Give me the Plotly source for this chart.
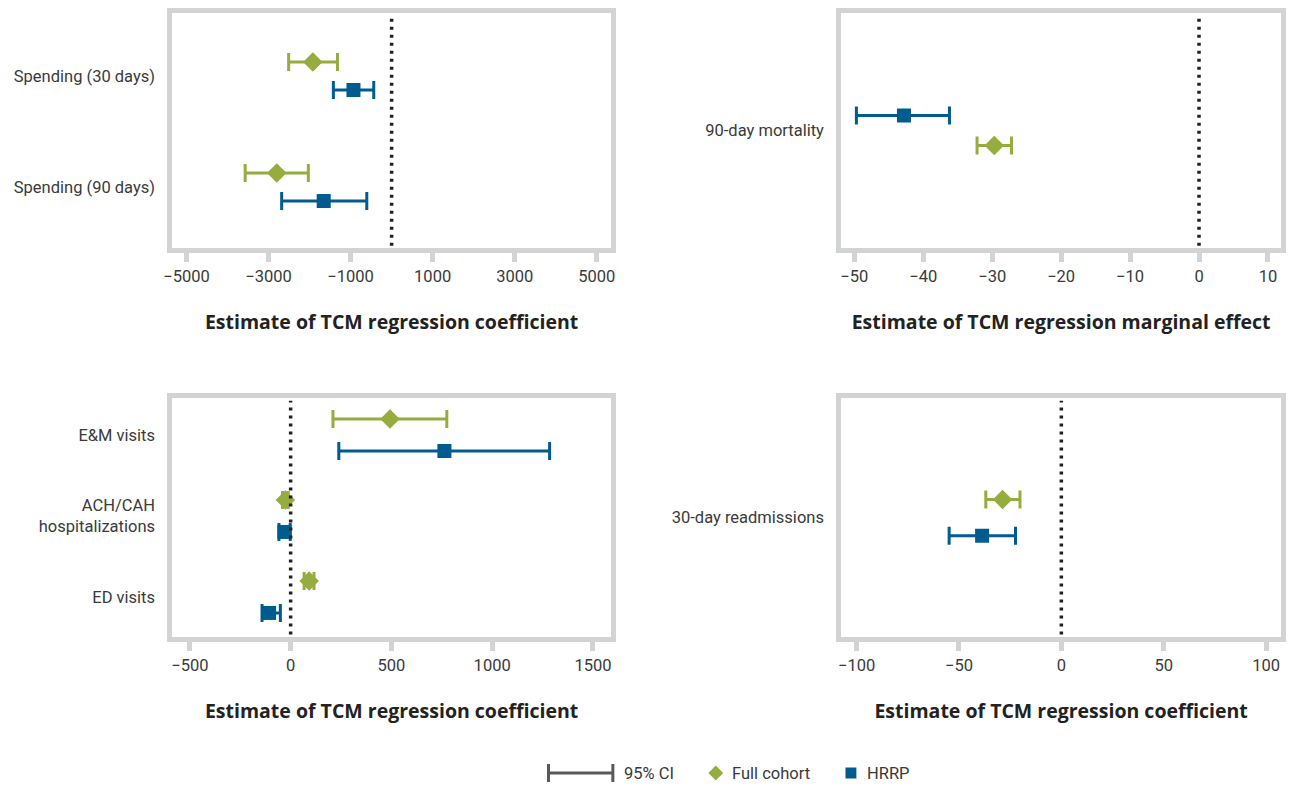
import plotly.graph_objects as go

W, H = 1290, 786
GREEN = "#95ad3e"
BLUE = "#005b8f"
FRAME = "#d2d3d5"
TXT = "#3a3a3a"
DOT = "#231f20"
FONT = "Roboto"
TFONT = "Open Sans"

# ---------------- data ----------------
# Panel 1 (top-left)
p1_cats = ["Spending (30 days)", "Spending (90 days)"]
p1_full_est = [-1920, -2800]
p1_full_lo = [-2510, -3570]
p1_full_hi = [-1320, -2030]
p1_hrrp_est = [-930, -1655]
p1_hrrp_lo = [-1420, -2680]
p1_hrrp_hi = [-435, -605]
p1_ticks = [-5000, -3000, -1000, 1000, 3000, 5000]

# Panel 2 (top-right)
p2_cats = ["90-day mortality"]
p2_full_est = [-29.7]
p2_full_lo = [-32.2]
p2_full_hi = [-27.2]
p2_hrrp_est = [-42.8]
p2_hrrp_lo = [-49.7]
p2_hrrp_hi = [-36.2]
p2_ticks = [-50, -40, -30, -20, -10, 0, 10]

# Panel 3 (bottom-left)
p3_cats = ["E&M visits", "ACH/CAH<br>hospitalizations", "ED visits"]
p3_full_est = [493, -26, 92]
p3_full_lo = [210, -40, 67]
p3_full_hi = [775, -12, 116]
p3_hrrp_est = [763, -31, -107]
p3_hrrp_lo = [239, -58, -142]
p3_hrrp_hi = [1285, -2, -51]
p3_ticks = [-500, 0, 500, 1000, 1500]

# Panel 4 (bottom-right)
p4_cats = ["30-day readmissions"]
p4_full_est = [-28.7]
p4_full_lo = [-36.9]
p4_full_hi = [-20.2]
p4_hrrp_est = [-38.7]
p4_hrrp_lo = [-54.8]
p4_hrrp_hi = [-22.4]
p4_ticks = [-100, -50, 0, 50, 100]

titles = ["Estimate of TCM regression coefficient",
          "Estimate of TCM regression marginal effect",
          "Estimate of TCM regression coefficient",
          "Estimate of TCM regression coefficient"]

# ---------------- layout geometry (pixels) ----------------
def px_dom_x(a, b):
    return [a / W, b / W]

def px_dom_y(top, bottom):
    return [1 - bottom / H, 1 - top / H]

panels = [
    dict(cats=p1_cats, fe=p1_full_est, fl=p1_full_lo, fh=p1_full_hi,
         he=p1_hrrp_est, hl=p1_hrrp_lo, hh=p1_hrrp_hi, ticks=p1_ticks,
         xr=[-5345, 5345], yr=[1.55, -0.568], off=0.126, full_first=True,
         xd=px_dom_x(165, 608), yd=px_dom_y(13, 248)),
    dict(cats=p2_cats, fe=p2_full_est, fl=p2_full_lo, fh=p2_full_hi,
         he=p2_hrrp_est, hl=p2_hrrp_lo, hh=p2_hrrp_hi, ticks=p2_ticks,
         xr=[-51.9, 11.9], yr=[1.06, -1.06], off=0.135, full_first=False,
         xd=px_dom_x(840.7, 1285), yd=px_dom_y(13, 248)),
    dict(cats=p3_cats, fe=p3_full_est, fl=p3_full_lo, fh=p3_full_hi,
         he=p3_hrrp_est, hl=p3_hrrp_lo, hh=p3_hrrp_hi, ticks=p3_ticks,
         xr=[-587, 1589], yr=[2.494, -0.453], off=0.197, full_first=True,
         xd=px_dom_x(165, 608), yd=px_dom_y(398.3, 637)),
    dict(cats=p4_cats, fe=p4_full_est, fl=p4_full_lo, fh=p4_full_hi,
         he=p4_hrrp_est, hl=p4_hrrp_lo, hh=p4_hrrp_hi, ticks=p4_ticks,
         xr=[-107.5, 107.3], yr=[1.5, -1.5], off=0.228, full_first=True,
         xd=px_dom_x(840.7, 1285), yd=px_dom_y(398.3, 637)),
]

fig = go.Figure()
shapes = []
annotations = []

for i, p in enumerate(panels):
    n = i + 1
    xa = "x" if n == 1 else f"x{n}"
    ya = "y" if n == 1 else f"y{n}"
    idx = list(range(len(p["cats"])))
    sgn = -1 if p["full_first"] else 1
    y_full = [k + sgn * p["off"] for k in idx]
    y_hrrp = [k - sgn * p["off"] for k in idx]

    fig.add_trace(go.Scatter(
        x=p["fe"], y=y_full, mode="markers", xaxis=xa, yaxis=ya,
        showlegend=False, name="Full cohort",
        marker=dict(symbol="diamond", size=15, color=GREEN),
        error_x=dict(type="data", symmetric=False,
                     array=[h - e for h, e in zip(p["fh"], p["fe"])],
                     arrayminus=[e - l for e, l in zip(p["fe"], p["fl"])],
                     color=GREEN, thickness=3, width=9)))
    fig.add_trace(go.Scatter(
        x=p["he"], y=y_hrrp, mode="markers", xaxis=xa, yaxis=ya,
        showlegend=False, name="HRRP",
        marker=dict(symbol="square", size=14, color=BLUE),
        error_x=dict(type="data", symmetric=False,
                     array=[h - e for h, e in zip(p["hh"], p["he"])],
                     arrayminus=[e - l for e, l in zip(p["he"], p["hl"])],
                     color=BLUE, thickness=3, width=9)))

    axkey_x = "xaxis" if n == 1 else f"xaxis{n}"
    axkey_y = "yaxis" if n == 1 else f"yaxis{n}"
    fig.update_layout(**{
        axkey_x: dict(domain=p["xd"], range=p["xr"], anchor=ya,
                      showgrid=False, zeroline=False,
                      showline=True, linewidth=5, linecolor=FRAME, mirror=True,
                      ticks="outside", ticklen=9, tickwidth=5, tickcolor=FRAME,
                      tickvals=p["ticks"],
                      tickfont=dict(family=FONT, size=16.5, color=TXT),
                      title=dict(text="<b>" + titles[i] + "</b>", standoff=32,
                                 font=dict(family=TFONT, size=19.5, color="#222222"))),
        axkey_y: dict(domain=p["yd"], range=p["yr"], anchor=xa,
                      showgrid=False, zeroline=False,
                      showline=True, linewidth=5, linecolor=FRAME, mirror=True,
                      ticks="", tickvals=idx, ticktext=p["cats"],
                      ticklabelstandoff=9,
                      tickfont=dict(family=FONT, size=16.5, color=TXT)),
    })
    shapes.append(dict(type="line", xref=xa, yref=f"{ya} domain",
                       x0=0, x1=0, y0=0.01, y1=0.99,
                       line=dict(color=DOT, width=3.5, dash="3px,5px")))

# ---------------- manual legend ----------------
def px(x, y):
    return x / W, 1 - y / H

LEG_Y = 773
GREY = "#595959"
x0, y0 = px(545, LEG_Y)
x1, _ = px(610, LEG_Y)
shapes.append(dict(type="line", xref="paper", yref="paper", x0=x0, x1=x1, y0=y0, y1=y0,
                   line=dict(color=GREY, width=3)))
for cx in (545, 610):
    a, t = px(cx, LEG_Y - 9)
    _, b = px(cx, LEG_Y + 9)
    shapes.append(dict(type="line", xref="paper", yref="paper", x0=a, x1=a, y0=b, y1=t,
                       line=dict(color=GREY, width=3)))
# diamond
cx, cy, r = 714, LEG_Y, 7.5
pts = [px(cx, cy - r), px(cx + r, cy), px(cx, cy + r), px(cx - r, cy)]
path = "M " + " L ".join(f"{a},{b}" for a, b in pts) + " Z"
shapes.append(dict(type="path", xref="paper", yref="paper", path=path,
                   fillcolor=GREEN, line=dict(width=0)))
# square
sx0, sy0 = px(845, LEG_Y + 5.5)
sx1, sy1 = px(856, LEG_Y - 5.5)
shapes.append(dict(type="rect", xref="paper", yref="paper", x0=sx0, x1=sx1, y0=sy0, y1=sy1,
                   fillcolor=BLUE, line=dict(width=0)))

for tx, txt in ((619, "95% CI"), (728, "Full cohort"), (865, "HRRP")):
    a, b = px(tx, LEG_Y)
    annotations.append(dict(xref="paper", yref="paper", x=a, y=b, text=txt,
                            showarrow=False, xanchor="left", yanchor="middle",
                            font=dict(family=FONT, size=16.5, color=TXT)))

fig.update_layout(
    width=W, height=H,
    margin=dict(l=0, r=0, t=0, b=0),
    paper_bgcolor="white", plot_bgcolor="white",
    shapes=shapes, annotations=annotations,
    showlegend=False,
)

fig.write_html("out.html", config={"displayModeBar": False},
               post_script="document.body.style.margin='0';document.body.style.overflow='hidden';")
